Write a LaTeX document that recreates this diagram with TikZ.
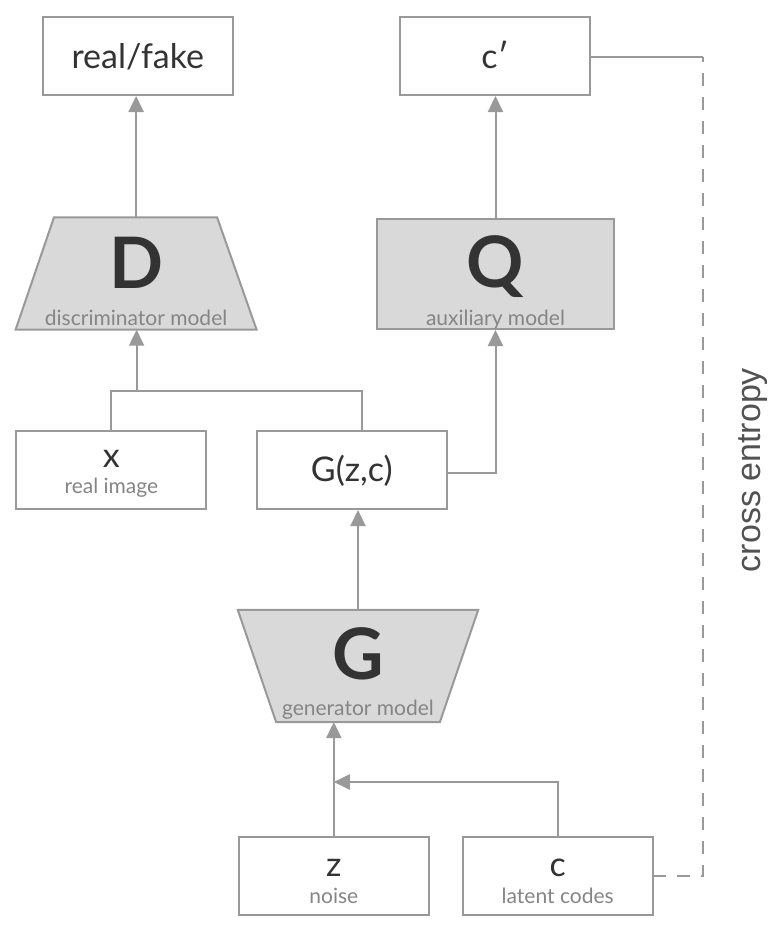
\documentclass[tikz,border=0pt]{standalone}
\usepackage{fontspec}
\setmainfont{Lato}
\newfontfamily\cefont{Liberation Sans}
\usetikzlibrary{arrows.meta,calc}
\definecolor{edge}{HTML}{999999}
\definecolor{modelfill}{HTML}{D9D9D9}
\definecolor{ink}{HTML}{333333}
\definecolor{subink}{HTML}{858585}
\begin{document}
\begin{tikzpicture}[x=1pt,y=1pt,
  box/.style={draw=edge, line width=2pt, fill=white, inner sep=0pt,
    minimum width=190pt, minimum height=78pt},
  frame/.style={inner sep=0pt},
  modelshape/.style={draw=edge, line width=2pt, fill=modelfill},
  wire/.style={draw=edge, line width=2pt},
  arr/.style={wire, -{Triangle[length=16pt,width=15pt]}},
  maintext/.style={anchor=base, text=ink, font=\fontsize{34}{40}\selectfont},
  subtext/.style={anchor=base, text=subink, font=\fontsize{21}{25}\selectfont},
  bigtext/.style={anchor=base, text=ink, font=\bfseries\fontsize{71}{80}\selectfont},
]
\useasboundingbox (0,0) rectangle (774,-932);

% output boxes
\node[box] (rf) at (137.8,-56) {};
\node[box] (cp) at (495,-56) {};
\node[maintext] (rftext) at ($(rf.center)+(0,-12)$) {real/fake};
\node[maintext] (cptext) at ($(cp.center)+(0,-12)$) {c\char"2032};

% discriminator (trapezoid, wide at the bottom)
\node[frame, minimum width=240.6pt, minimum height=112pt] (D) at (136.1,-273.5) {};
\draw[modelshape] ($(D.north west)+(38.4,0)$) -- ($(D.north east)+(-39.5,0)$)
  -- (D.south east) -- (D.south west) -- cycle;
\node[bigtext] (Dl) at ($(D.center)+(0,-14.5)$) {D};
\node[subtext] (Ds) at ($(D.center)+(0,-51.5)$) {discriminator model};

% auxiliary model
\node[modelshape, frame, minimum width=237.6pt, minimum height=110pt] (Q) at (495.5,-274) {};
\node[bigtext] (Ql) at ($(Q.center)+(0,-13)$) {Q};
\node[subtext] (Qs) at ($(Q.center)+(0,-51)$) {auxiliary model};

% real image and generated sample
\node[box] (xb) at (111.4,-470) {};
\node[maintext] (xl) at ($(xb.center)+(0,3)$) {x};
\node[subtext] (xs) at ($(xb.center)+(0,-23)$) {real image};
\node[box] (gzc) at (351.8,-470) {};
\node[maintext] (gzcl) at ($(gzc.center)+(0,-11)$) {G(z,c)};

% generator (trapezoid, narrow at the bottom)
\node[frame, minimum width=240pt, minimum height=111.7pt] (G) at (358,-666) {};
\draw[modelshape] (G.north west) -- (G.north east)
  -- ($(G.south east)+(-38.3,0)$) -- ($(G.south west)+(38.3,0)$) -- cycle;
\node[bigtext] (Gl) at ($(G.center)+(0,-13)$) {G};
\node[subtext] (Gs) at ($(G.center)+(0,-49)$) {generator model};

% inputs
\node[box] (zb) at (333.8,-876) {};
\node[maintext] (zl) at (zb.center) {z};
\node[subtext] (zs) at ($(zb.center)+(0,-27)$) {noise};
\node[box] (cb) at (557.7,-876) {};
\node[maintext] (cl) at (cb.center) {c};
\node[subtext] (cs) at ($(cb.center)+(0,-27)$) {latent codes};

% connectors
\draw[arr] (D.north) -- (D.north |- rf.south);
\draw[arr] (Q.north) -- (Q.north |- cp.south);
\coordinate (dj) at ($(D.south)+(0.5,-61)$);
\draw[wire] (xb.north) |- (dj) -| ($(gzc.north)+(10.6,0)$);
\draw[arr] (dj) -- (dj |- D.south);
\draw[arr] ($(gzc.east)+(0,-3)$) -| (Q.south);
\draw[arr] (G.north) -- (G.north |- gzc.south);
\draw[arr] (zb.north) -- (zb.north |- G.south);
\coordinate (zj) at ($(zb.north)+(0,54)$);
\draw[arr] (cb.north) |- (zj);

% cross-entropy link between c' and c
\coordinate (ce) at (702.5,-56.7);
\draw[wire] (cp.east |- ce) -- (ce);
\draw[wire, dash pattern=on 13pt off 11pt, dash phase=8pt] (ce) |- (cb.east);
\node[rotate=90, anchor=base, text=ink!85, font=\cefont\fontsize{34}{40}\selectfont] (cet) at (760,-470) {cross entropy};
\end{tikzpicture}
\end{document}
